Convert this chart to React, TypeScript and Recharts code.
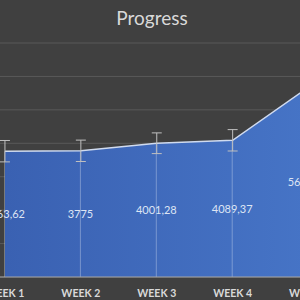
import {
  ComposedChart,
  Area,
  Bar,
  Line,
  ErrorBar,
  XAxis,
  YAxis,
  CartesianGrid,
  LabelList,
} from "recharts";

const weeks = ["WEEK 1", "WEEK 2", "WEEK 3", "WEEK 4", "WEEK 5"];
const progress = [3763.62, 3775, 4001.28, 4089.37, 5681.25];
const errors = [320, 320, 310, 320, 330];
const yTicks = [0, 1000, 2000, 3000, 4000, 5000, 6000, 7000];

const data = weeks.map((week, i) => ({
  week,
  value: progress[i],
  err: errors[i],
}));

const fmt = (v: number) => String(v).replace(".", ",");

export default function App() {
  return (
    <div
      style={{
        position: "absolute",
        top: 0,
        left: 0,
        width: 300,
        height: 300,
        overflow: "hidden",
        background: "#404040",
        fontFamily: "Lato, 'Open Sans', sans-serif",
      }}
    >
      <div
        style={{
          position: "absolute",
          top: 5,
          left: 0,
          width: 304,
          textAlign: "center",
          color: "#d9d9d9",
          fontSize: 19,
          lineHeight: "26px",
        }}
      >
        Progress
      </div>
      <div style={{ position: "absolute", left: -33.5, top: 0 }}>
        <ComposedChart
          width={379.5}
          height={300}
          data={data}
          margin={{ top: 43, right: 0, bottom: 0, left: 0 }}
        >
          <defs>
            <linearGradient id="areaFill" x1="0" y1="0" x2="1" y2="0">
              <stop offset="0%" stopColor="#3a61b2" />
              <stop offset="100%" stopColor="#4674c6" />
            </linearGradient>
          </defs>
          <CartesianGrid vertical={false} stroke="#595959" />
          <XAxis
            dataKey="week"
            height={23}
            tickLine={false}
            axisLine={{ stroke: "#a6a6a6" }}
            tickMargin={7}
            tick={{ fill: "#d9d9d9", fontSize: 10.5, fontWeight: 700 }}
            interval={0}
          />
          <YAxis hide domain={[0, 7000]} ticks={yTicks} />
          <Area
            dataKey="value"
            type="linear"
            fill="url(#areaFill)"
            fillOpacity={1}
            stroke="#d0dbef"
            strokeWidth={1.5}
            isAnimationActive={false}
          />
          <Bar
            dataKey="value"
            barSize={1}
            fill="rgba(255,255,255,0.3)"
            isAnimationActive={false}
          >
            <LabelList
              dataKey="value"
              position="center"
              formatter={(v: number) => fmt(v)}
              fill="#dde5f4"
              fontSize={11}
            />
          </Bar>
          <Line
            dataKey="value"
            stroke="none"
            dot={false}
            activeDot={false}
            isAnimationActive={false}
          >
            <ErrorBar
              dataKey="err"
              direction="y"
              width={5}
              stroke="#bfbfbf"
              strokeWidth={1}
              isAnimationActive={false}
            />
          </Line>
        </ComposedChart>
      </div>
    </div>
  );
}
